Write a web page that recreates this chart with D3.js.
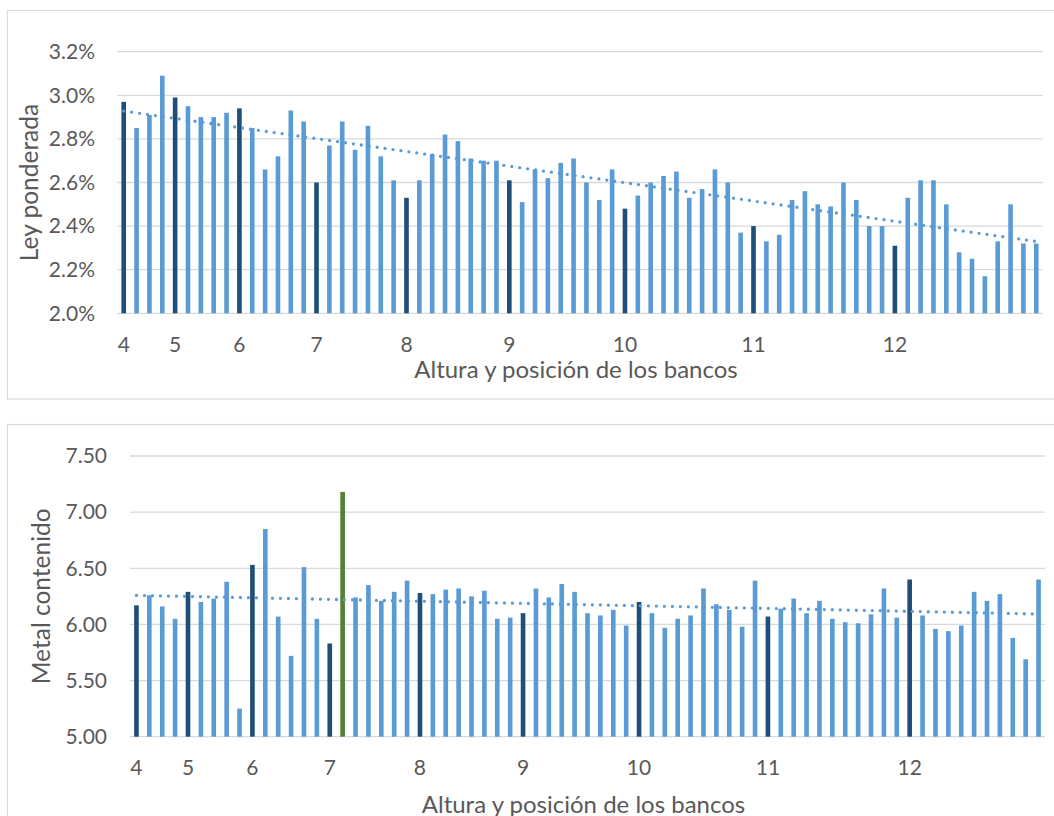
<!DOCTYPE html>
<html>
<head>
<meta charset="utf-8">
<script src="https://cdn.jsdelivr.net/npm/d3@7"></script>
<style>
  body { margin: 0; background: #fff; }
  text { font-family: Lato, "Open Sans", sans-serif; fill: #595959; }
</style>
</head>
<body>
<div id="chart-container"></div>
<script>
// data
// bench labels and the bar index where each bench starts
const benchLabels = ["4", "5", "6", "7", "8", "9", "10", "11", "12"];
const benchStart = [0, 4, 9, 15, 22, 30, 39, 49, 60];

// weighted grade (%) per bar
const leyValues = [
  2.97, 2.85, 2.91, 3.09, 2.99, 2.95, 2.90, 2.90, 2.92, 2.94,
  2.85, 2.66, 2.72, 2.93, 2.88, 2.60, 2.77, 2.88, 2.75, 2.86,
  2.72, 2.61, 2.53, 2.61, 2.73, 2.82, 2.79, 2.71, 2.70, 2.70,
  2.61, 2.51, 2.66, 2.62, 2.69, 2.71, 2.60, 2.52, 2.66, 2.48,
  2.54, 2.60, 2.63, 2.65, 2.53, 2.57, 2.66, 2.60, 2.37, 2.40,
  2.33, 2.36, 2.52, 2.56, 2.50, 2.49, 2.60, 2.52, 2.40, 2.40,
  2.31, 2.53, 2.61, 2.61, 2.50, 2.28, 2.25, 2.17, 2.33, 2.50,
  2.32, 2.32
];

// contained metal per bar
const metalValues = [
  6.17, 6.26, 6.16, 6.05, 6.29, 6.20, 6.23, 6.38, 5.25, 6.53,
  6.85, 6.07, 5.72, 6.51, 6.05, 5.83, 7.18, 6.24, 6.35, 6.21,
  6.29, 6.39, 6.28, 6.27, 6.31, 6.32, 6.25, 6.30, 6.05, 6.06,
  6.10, 6.32, 6.24, 6.36, 6.29, 6.10, 6.08, 6.13, 5.99, 6.20,
  6.10, 5.97, 6.05, 6.08, 6.32, 6.18, 6.13, 5.98, 6.39, 6.07,
  6.14, 6.23, 6.10, 6.21, 6.05, 6.02, 6.01, 6.09, 6.32, 6.06,
  6.40, 6.08, 5.96, 5.94, 5.99, 6.29, 6.21, 6.27, 5.88, 5.69,
  6.40
];
const metalHighlight = [16]; // green bar

const leyTicks = [2.0, 2.2, 2.4, 2.6, 2.8, 3.0, 3.2];
const metalTicks = [5.0, 5.5, 6.0, 6.5, 7.0, 7.5];

/** CONSTANTS */
const width = 1054,
  height = 816,
  lightBlue = "#5B9BD5",
  darkBlue = "#1F4E79",
  green = "#548235",
  gridColor = "#D9D9D9";

const svg = d3
  .select("#chart-container")
  .append("svg")
  .attr("width", width)
  .attr("height", height);

// least squares line, like excel's linear trendline
function trend(values) {
  const n = values.length;
  const xs = d3.range(n);
  const mx = d3.mean(xs),
    my = d3.mean(values);
  const b =
    d3.sum(xs, (x, i) => (x - mx) * (values[i] - my)) /
    d3.sum(xs, (x) => (x - mx) * (x - mx));
  const a = my - b * mx;
  return [0, n - 1].map((x) => ({ i: x, v: a + b * x }));
}

function drawChart(opt) {
  const g = svg.append("g");

  // chart frame
  g.append("rect")
    .attr("x", opt.frame[0])
    .attr("y", opt.frame[1])
    .attr("width", opt.frame[2])
    .attr("height", opt.frame[3])
    .attr("fill", "none")
    .attr("stroke", gridColor)
    .attr("stroke-width", 1.2);

  /** SCALES */
  const xScale = d3
    .scaleBand()
    .domain(d3.range(opt.values.length))
    .range([opt.left, opt.right])
    .paddingInner(0.64)
    .paddingOuter(0.32);

  const yScale = d3
    .scaleLinear()
    .domain(d3.extent(opt.ticks))
    .range([opt.bottom, opt.top]);

  // gridlines
  g.append("g")
    .selectAll("line")
    .data(opt.ticks)
    .join("line")
    .attr("x1", opt.left)
    .attr("x2", opt.right)
    .attr("y1", (d) => yScale(d))
    .attr("y2", (d) => yScale(d))
    .attr("stroke", gridColor)
    .attr("stroke-width", 1.3);

  // y axis labels
  const yAxis = d3
    .axisLeft(yScale)
    .tickValues(opt.ticks)
    .tickFormat(opt.format)
    .tickSize(0)
    .tickPadding(0);
  const ya = g
    .append("g")
    .attr("transform", `translate(${opt.yLabelX},0)`)
    .call(yAxis);
  ya.select(".domain").remove();
  ya.selectAll("text")
    .attr("font-size", 21)
    .attr("fill", "#595959")
    .attr("font-family", "Lato");

  // x axis labels, one per bench
  const xAxis = d3
    .axisBottom(xScale)
    .tickValues(benchStart)
    .tickFormat((d) => benchLabels[benchStart.indexOf(d)])
    .tickSize(0)
    .tickPadding(0);
  const xa = g
    .append("g")
    .attr("transform", `translate(0,${opt.xLabelY})`)
    .call(xAxis);
  xa.select(".domain").remove();
  xa.selectAll("text")
    .attr("font-size", 21)
    .attr("fill", "#595959")
    .attr("font-family", "Lato")
    .attr("dy", 0);

  // bars
  g.append("g")
    .selectAll("rect")
    .data(opt.values)
    .join("rect")
    .attr("x", (d, i) => xScale(i))
    .attr("y", (d) => yScale(d))
    .attr("width", xScale.bandwidth())
    .attr("height", (d) => opt.bottom - yScale(d))
    .attr("fill", (d, i) =>
      opt.highlight.includes(i)
        ? green
        : benchStart.includes(i)
        ? darkBlue
        : lightBlue
    );

  // dotted trendline
  const line = d3
    .line()
    .x((d) => xScale(d.i) + xScale.bandwidth() / 2)
    .y((d) => yScale(d.v));
  g.append("path")
    .datum(trend(opt.values))
    .attr("d", line)
    .attr("fill", "none")
    .attr("stroke", lightBlue)
    .attr("stroke-width", 3.3)
    .attr("stroke-linecap", "round")
    .attr("stroke-dasharray", "0 8");

  // axis titles
  g.append("text")
    .attr("x", (opt.left + opt.right) / 2 - 4)
    .attr("y", opt.xTitleY)
    .attr("text-anchor", "middle")
    .attr("font-size", 24)
    .text("Altura y posición de los bancos");

  g.append("text")
    .attr(
      "transform",
      `translate(${opt.yTitleX},${(opt.top + opt.bottom) / 2}) rotate(-90)`
    )
    .attr("text-anchor", "middle")
    .attr("font-size", 24.5)
    .text(opt.yTitle);
}

drawChart({
  values: leyValues,
  highlight: [],
  ticks: leyTicks,
  format: (d) => d.toFixed(1) + "%",
  frame: [7.5, 10.5, 1060, 388.5],
  left: 117.3,
  right: 1042.7,
  top: 51.7,
  bottom: 313.3,
  yLabelX: 95,
  xLabelY: 351.5,
  xTitleY: 377.5,
  yTitleX: 37.5,
  yTitle: "Ley ponderada",
});

drawChart({
  values: metalValues,
  highlight: metalHighlight,
  ticks: metalTicks,
  format: d3.format(".2f"),
  frame: [7.5, 424.5, 1060, 420],
  left: 130,
  right: 1045,
  top: 456,
  bottom: 736.7,
  yLabelX: 107,
  xLabelY: 775,
  xTitleY: 812.5,
  yTitleX: 50,
  yTitle: "Metal contenido",
});
</script>
</body>
</html>
